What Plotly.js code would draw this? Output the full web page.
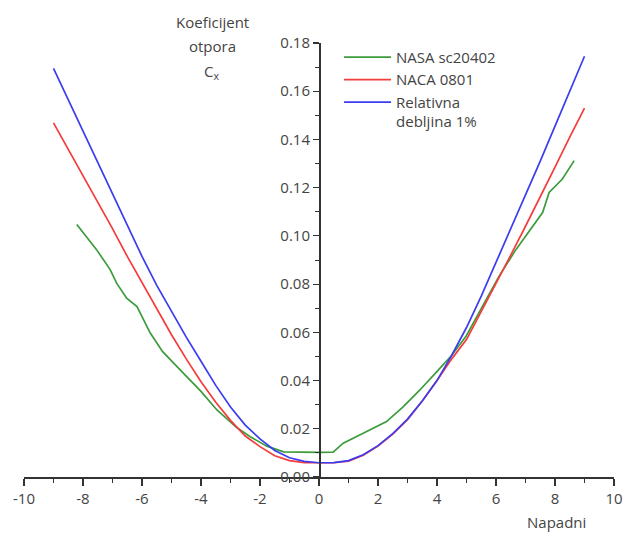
<!DOCTYPE html>
<html>
<head>
<meta charset="utf-8">
<script src="https://cdn.plot.ly/plotly-3.0.1.min.js"></script>
<style>html,body{margin:0;padding:0;background:#fff;}#chart{width:624px;height:538px;}</style>
</head>
<body>
<div id="chart"></div>
<script>
// ---- data ----
const seriesNames = ["NASA sc20402", "NACA 0801", "Relativna<br>debljina 1%"];

const nasaX = [-8.21, -7.54, -7.08, -6.86, -6.52, -6.17, -5.72, -5.3, -4.6, -4.0, -3.46, -2.79, -2.33, -1.77, -1.2, -0.6, 0.0, 0.48, 0.82, 1.16, 1.73, 2.29, 2.86, 3.42, 3.98, 4.5, 4.99, 5.55, 6.11, 6.68, 7.24, 7.58, 7.80, 8.25, 8.65];
const nasaY = [0.1047, 0.0943, 0.0860, 0.0804, 0.0742, 0.0707, 0.0597, 0.0520, 0.0431, 0.0355, 0.0278, 0.0205, 0.0167, 0.0128, 0.0104, 0.0102, 0.0102, 0.0103, 0.0140, 0.0161, 0.0195, 0.0230, 0.0292, 0.0361, 0.0435, 0.0505, 0.0585, 0.0709, 0.0834, 0.0944, 0.1042, 0.1097, 0.1180, 0.1236, 0.1312];

const nacaX = [-9.0, -8.5, -8.0, -7.5, -7.0, -6.5, -6.0, -5.5, -5.0, -4.5, -4.0, -3.5, -3.0, -2.5, -2.0, -1.5, -1.0, -0.5, 0.0, 0.5, 1.0, 1.5, 2.0, 2.5, 3.0, 3.5, 4.0, 4.5, 5.0, 5.5, 6.0, 6.5, 7.0, 7.5, 8.0, 8.5, 9.0];
const nacaY = [0.1469, 0.1360, 0.1250, 0.1140, 0.1030, 0.0915, 0.0805, 0.0695, 0.0590, 0.0490, 0.0395, 0.0310, 0.0235, 0.0170, 0.0126, 0.0088, 0.0068, 0.0060, 0.0058, 0.0059, 0.0066, 0.0090, 0.0128, 0.0178, 0.0238, 0.0315, 0.0400, 0.0490, 0.0570, 0.0685, 0.0800, 0.0920, 0.1040, 0.1160, 0.1285, 0.1410, 0.1530];

const relX = [-9.0, -8.5, -8.0, -7.5, -7.0, -6.5, -6.0, -5.5, -5.0, -4.5, -4.0, -3.5, -3.0, -2.5, -2.0, -1.5, -1.0, -0.5, 0.0, 0.5, 1.0, 1.5, 2.0, 2.5, 3.0, 3.5, 4.0, 4.5, 5.0, 5.5, 6.0, 6.5, 7.0, 7.5, 8.0, 8.5, 9.0];
const relY = [0.1695, 0.1565, 0.1430, 0.1300, 0.1170, 0.1040, 0.0915, 0.0795, 0.0685, 0.0580, 0.0480, 0.0380, 0.0290, 0.0215, 0.0158, 0.0110, 0.0080, 0.0065, 0.0059, 0.0060, 0.0068, 0.0092, 0.0130, 0.0180, 0.0240, 0.0315, 0.0400, 0.0505, 0.0620, 0.0750, 0.0890, 0.1030, 0.1165, 0.1310, 0.1455, 0.1600, 0.1745];

const xTickVals = [-10, -8, -6, -4, -2, 0, 2, 4, 6, 8, 10];
const xTickText = ["-10", "-8", "-6", "-4", "-2", "0", "2", "4", "6", "8", "10"];
const yTickVals = [0, 0.02, 0.04, 0.06, 0.08, 0.10, 0.12, 0.14, 0.16, 0.18];
const yTickText = ["0.00", "0.02", "0.04", "0.06", "0.08", "0.10", "0.12", "0.14", "0.16", "0.18"];

const colors = ["#3c9c3c", "#f53c3c", "#3c3cf0"];
const FONT = "Open Sans, Liberation Sans, sans-serif";
const TXT = "#444";

const traces = [
  {x: nasaX, y: nasaY, name: seriesNames[0], mode: "lines", line: {color: colors[0], width: 1.7}},
  {x: nacaX, y: nacaY, name: seriesNames[1], mode: "lines", line: {color: colors[1], width: 1.7}},
  {x: relX, y: relY, name: seriesNames[2], mode: "lines", line: {color: colors[2], width: 1.7}}
];

const layout = {
  width: 624, height: 538,
  margin: {l: 24, r: 10, t: 43, b: 61},
  paper_bgcolor: "#fff", plot_bgcolor: "#fff",
  font: {family: FONT, size: 15, color: TXT},
  showlegend: true,
  legend: {x: 0.534, y: 1.005, xanchor: "left", yanchor: "top", bgcolor: "rgba(0,0,0,0)",
           font: {family: FONT, size: 15, color: TXT}, itemwidth: 47, valign: "top", tracegroupgap: 0},
  xaxis: {
    range: [-10, 10], showgrid: false, zeroline: false,
    showline: true, linecolor: "#333", linewidth: 1.5,
    tickmode: "array", tickvals: xTickVals, ticktext: xTickText,
    ticks: "outside", ticklen: 7, tickwidth: 1.2, tickcolor: "#333",
    minor: {dtick: 1, ticks: "outside", ticklen: 4, tickwidth: 1, tickcolor: "#333"},
    tickfont: {family: FONT, size: 15, color: TXT}
  },
  yaxis: {
    range: [0, 0.18], showgrid: false, zeroline: false,
    anchor: "free", position: 0.5,
    showline: true, linecolor: "#333", linewidth: 1.5,
    tickmode: "array", tickvals: yTickVals, ticktext: yTickText,
    ticks: "outside", ticklen: 6, tickwidth: 1.2, tickcolor: "#333",
    minor: {dtick: 0.01, ticks: "outside", ticklen: 4, tickwidth: 1, tickcolor: "#333"},
    tickfont: {family: FONT, size: 15, color: TXT}
  },
  annotations: [
    {text: "Koeficijent", xref: "paper", yref: "paper", x: 0.3203, y: 1.0484, xanchor: "center", yanchor: "middle", showarrow: false, font: {family: FONT, size: 15, color: TXT}},
    {text: "otpora", xref: "paper", yref: "paper", x: 0.3203, y: 0.9931, xanchor: "center", yanchor: "middle", showarrow: false, font: {family: FONT, size: 15, color: TXT}},
    {text: "C<sub>x</sub>", xref: "paper", yref: "paper", x: 0.3186, y: 0.9332, xanchor: "center", yanchor: "middle", showarrow: false, font: {family: FONT, size: 15, color: TXT}},
    {text: "Napadni", xref: "paper", yref: "paper", x: 0.9017, y: -0.1037, xanchor: "center", yanchor: "middle", showarrow: false, font: {family: FONT, size: 15, color: TXT}}
  ]
};

Plotly.newPlot("chart", traces, layout, {displayModeBar: false, staticPlot: true});
</script>
</body>
</html>
